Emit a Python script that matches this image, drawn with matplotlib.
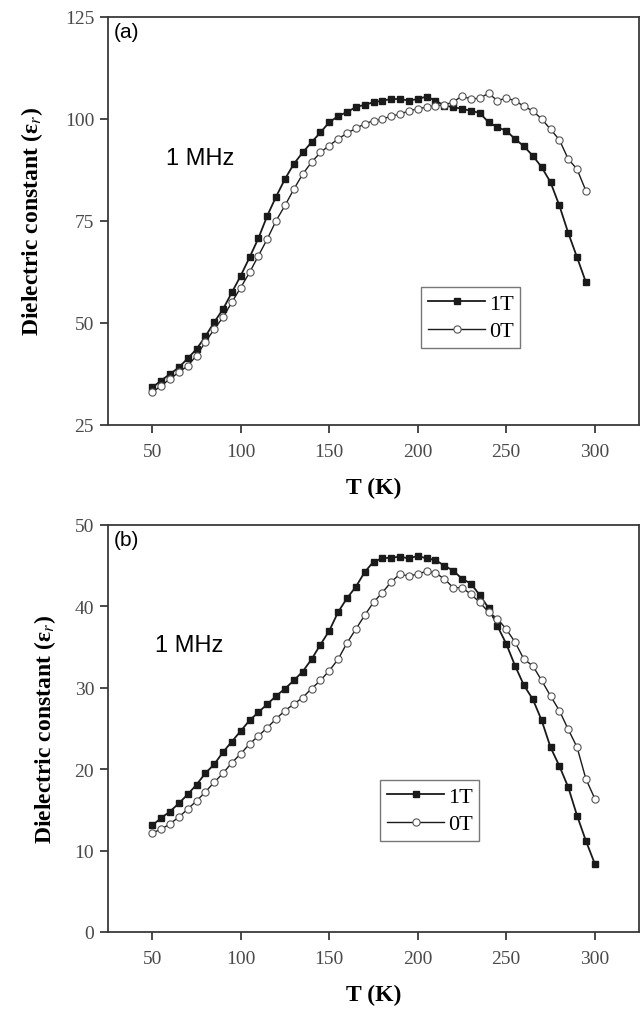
import matplotlib
matplotlib.use("Agg")
import matplotlib.pyplot as plt

# Temperature grid (K)
temp_a = list(range(50, 300, 5))    # 50 ... 295
temp_b = list(range(50, 305, 5))    # 50 ... 300

# Panel (a): dielectric constant at 1 MHz
eps_a_1T = [34.2, 35.9, 37.5, 39.1, 41.3, 43.6, 46.7, 50.2, 53.4, 57.5,
            61.6, 66.1, 70.8, 76.3, 81.0, 85.3, 89.0, 91.8, 94.3, 96.7,
            99.2, 100.7, 101.7, 102.9, 103.5, 104.1, 104.5, 104.9, 104.9, 104.5,
            104.9, 105.5, 104.5, 103.3, 102.9, 102.5, 102.0, 101.5, 99.2, 98.0,
            97.1, 95.1, 93.3, 91.0, 88.2, 84.5, 78.8, 72.1, 66.1, 60.0]
eps_a_0T = [33.0, 34.6, 36.3, 37.9, 39.5, 42.0, 45.3, 48.5, 51.4, 55.1,
            58.7, 62.4, 66.5, 70.6, 75.1, 78.8, 82.8, 86.5, 89.4, 91.8,
            93.5, 95.1, 96.5, 97.7, 98.8, 99.6, 100.0, 100.7, 101.2, 102.0,
            102.5, 102.9, 103.3, 103.4, 104.2, 105.6, 104.9, 105.1, 106.3, 104.5,
            105.1, 104.5, 103.1, 102.0, 100.0, 97.5, 94.9, 90.2, 87.7, 82.4]

# Panel (b): dielectric constant at 1 MHz
eps_b_1T = [13.1, 14.0, 14.8, 15.8, 16.9, 18.1, 19.5, 20.6, 22.1, 23.4,
            24.7, 26.0, 27.0, 28.0, 29.0, 29.9, 30.9, 32.0, 33.5, 35.3,
            37.0, 39.3, 41.0, 42.4, 44.2, 45.5, 45.9, 46.0, 46.1, 45.9,
            46.2, 45.9, 45.7, 45.0, 44.4, 43.4, 42.8, 41.4, 39.8, 37.6,
            35.4, 32.7, 30.3, 28.6, 26.0, 22.7, 20.4, 17.8, 14.3, 11.2, 8.4]
eps_b_0T = [12.2, 12.6, 13.3, 14.1, 15.1, 16.1, 17.2, 18.4, 19.5, 20.8,
            21.9, 23.1, 24.1, 25.1, 26.2, 27.2, 28.0, 28.8, 29.9, 30.9,
            32.1, 33.5, 35.5, 37.2, 38.9, 40.5, 41.7, 43.0, 44.0, 43.7,
            44.0, 44.3, 44.1, 43.4, 42.3, 42.3, 41.5, 40.5, 39.3, 38.5,
            37.2, 35.6, 33.5, 32.7, 30.9, 29.0, 27.2, 24.9, 22.7, 18.8, 16.4]

series_labels = ["1T", "0T"]
x_ticks = [50, 100, 150, 200, 250, 300]
yticks_a = [25, 50, 75, 100, 125]
yticks_b = [0, 10, 20, 30, 40, 50]

plt.rcParams["mathtext.fontset"] = "stix"
SERIF = "Liberation Serif"
SANS = "Liberation Sans"
LINE_COL = "#1a1a1a"
SPINE_COL = "#3a3a3a"
TICK_COL = "#4a4a4a"

fig = plt.figure(figsize=(6.44, 10.12), dpi=100)
ax_a = fig.add_axes([108 / 644, 1 - 426 / 1012, 531 / 644, 408 / 1012])
ax_b = fig.add_axes([108 / 644, 1 - 933 / 1012, 531 / 644, 407 / 1012])


def draw_panel(ax, t, y1, y0, yticks, tag, mhz_xy, legend_anchor, ypad):
    ax.plot(t, y1, color=LINE_COL, lw=1.3, marker="s", ms=4.4,
            mfc=LINE_COL, mec=LINE_COL, label=series_labels[0])
    ax.plot(t, y0, color=LINE_COL, lw=1.0, marker="o", ms=5.2,
            mfc="white", mec="#555555", mew=0.8, label=series_labels[1])
    ax.set_xlim(25, 325)
    ax.set_ylim(yticks[0], yticks[-1])
    ax.set_xticks(x_ticks)
    ax.set_yticks(yticks)
    for sp in ax.spines.values():
        sp.set_color(SPINE_COL)
        sp.set_linewidth(1.3)
    ax.tick_params(direction="out", length=6, width=1.3, color=SPINE_COL,
                   labelsize=14, labelcolor=TICK_COL)
    ax.tick_params(axis="x", pad=7)
    ax.tick_params(axis="y", pad=4)
    for lab in ax.get_xticklabels() + ax.get_yticklabels():
        lab.set_fontfamily(SERIF)
    ax.set_xlabel("T (K)", fontfamily=SERIF, fontweight="bold",
                  fontsize=17, labelpad=12)
    ax.set_ylabel(r"Dielectric constant (ε$_r$)", fontfamily=SERIF,
                  fontweight="bold", fontsize=17, labelpad=ypad)
    ax.text(0.010, 0.988, tag, transform=ax.transAxes, ha="left", va="top",
            fontfamily=SANS, fontsize=15)
    ax.text(mhz_xy[0], mhz_xy[1], "1 MHz", transform=ax.transAxes,
            ha="left", va="center", fontfamily=SANS, fontsize=17)
    leg = ax.legend(loc="upper left", bbox_to_anchor=legend_anchor,
                    prop={"family": SERIF, "size": 16}, frameon=True,
                    fancybox=False, edgecolor="#555555", handlelength=2.6,
                    handletextpad=0.15, borderpad=0.3, labelspacing=0.3,
                    borderaxespad=0)
    leg.get_frame().set_linewidth(1.0)


draw_panel(ax_a, temp_a, eps_a_1T, eps_a_0T, yticks_a, "(a)",
           (0.11, 0.655), ((421 - 108) / 531, (426 - 288) / 408), 14)
draw_panel(ax_b, temp_b, eps_b_1T, eps_b_0T, yticks_b, "(b)",
           (0.088, 0.705), ((380 - 108) / 531, (933 - 781) / 407), 12)

fig.savefig("out.png", dpi=100, facecolor="white")
